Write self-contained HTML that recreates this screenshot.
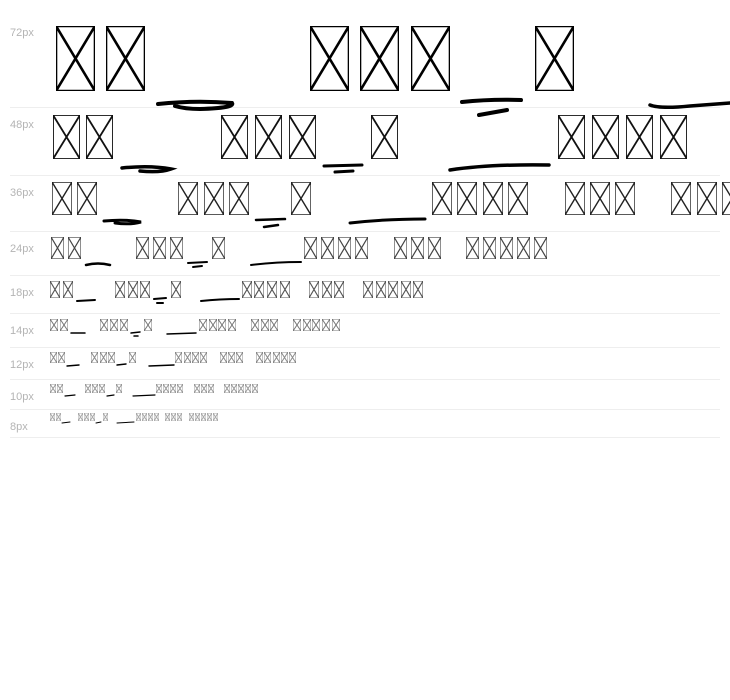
<!DOCTYPE html>
<html><head><meta charset="utf-8"><style>
html,body{margin:0;padding:0;background:#fff;width:730px;height:700px;overflow:hidden}
svg{display:block}
.l{font-family:"Liberation Sans",sans-serif;font-size:11px;fill:#b4b4b4}
.s{fill:none;stroke:#000;stroke-linecap:round}
</style></head><body>
<svg width="730" height="700" viewBox="0 0 730 700" xmlns="http://www.w3.org/2000/svg">
<defs>
<symbol id="b" viewBox="0 0 10 20" preserveAspectRatio="none">
<path d="M0 0H10V20H0Z M0 0L10 20 M10 0L0 20" fill="none" stroke="currentColor" vector-effect="non-scaling-stroke"/>
</symbol>
</defs>
<g stroke="#eee" stroke-width="1">
<line x1="10" y1="107.5" x2="720" y2="107.5"/><line x1="10" y1="175.5" x2="720" y2="175.5"/>
<line x1="10" y1="231.5" x2="720" y2="231.5"/><line x1="10" y1="275.5" x2="720" y2="275.5"/>
<line x1="10" y1="313.5" x2="720" y2="313.5"/><line x1="10" y1="347.5" x2="720" y2="347.5"/>
<line x1="10" y1="379.5" x2="720" y2="379.5"/><line x1="10" y1="409.5" x2="720" y2="409.5"/>
<line x1="10" y1="437.5" x2="720" y2="437.5"/>
</g>
<text class="l" x="10" y="36">72px</text><text class="l" x="10" y="128">48px</text>
<text class="l" x="10" y="196">36px</text><text class="l" x="10" y="252">24px</text>
<text class="l" x="10" y="296">18px</text><text class="l" x="10" y="334">14px</text>
<text class="l" x="10" y="368">12px</text><text class="l" x="10" y="400">10px</text>
<text class="l" x="10" y="430">8px</text>

<g color="#000" stroke-width="2.6">
<use href="#b" x="56" y="26" width="39" height="65"/>
<use href="#b" x="106" y="26" width="39" height="65"/>
<use href="#b" x="310" y="26" width="39" height="65"/>
<use href="#b" x="360" y="26" width="39" height="65"/>
<use href="#b" x="411" y="26" width="39" height="65"/>
<use href="#b" x="535" y="26" width="39" height="65"/>
</g>
<path class="s" stroke-width="4" d="M158 104 Q195 100 232 103 Q235 108 200 109 Q185 109 175 106"/>
<path class="s" stroke-width="4" d="M462 102 Q490 99 521 100 M479 115 L507 110"/>
<path class="s" stroke-width="3.5" d="M650 105 Q660 109 690 106 L730 103"/>

<g color="#111" stroke-width="1.8">
<use href="#b" x="53" y="115" width="27" height="44"/><use href="#b" x="86" y="115" width="27" height="44"/>
<use href="#b" x="221" y="115" width="27" height="44"/><use href="#b" x="255" y="115" width="27" height="44"/>
<use href="#b" x="289" y="115" width="27" height="44"/><use href="#b" x="371" y="115" width="27" height="44"/>
<use href="#b" x="558" y="115" width="27" height="44"/><use href="#b" x="592" y="115" width="27" height="44"/>
<use href="#b" x="626" y="115" width="27" height="44"/><use href="#b" x="660" y="115" width="27" height="44"/>
</g>
<path class="s" stroke-width="3.5" d="M122 168 Q150 165 171 169 Q160 173 140 171"/>
<path class="s" stroke-width="3" d="M324 166 L362 165 M335 172 L353 171"/>
<path class="s" stroke-width="3.5" d="M450 170 Q490 164 549 165"/>

<g color="#222" stroke-width="1.4">
<use href="#b" x="52" y="182" width="20" height="33"/><use href="#b" x="77" y="182" width="20" height="33"/>
<use href="#b" x="178" y="182" width="20" height="33"/><use href="#b" x="204" y="182" width="20" height="33"/>
<use href="#b" x="229" y="182" width="20" height="33"/><use href="#b" x="291" y="182" width="20" height="33"/>
<use href="#b" x="432" y="182" width="20" height="33"/><use href="#b" x="457" y="182" width="20" height="33"/>
<use href="#b" x="483" y="182" width="20" height="33"/><use href="#b" x="508" y="182" width="20" height="33"/>
<use href="#b" x="565" y="182" width="20" height="33"/><use href="#b" x="590" y="182" width="20" height="33"/>
<use href="#b" x="615" y="182" width="20" height="33"/><use href="#b" x="671" y="182" width="20" height="33"/>
<use href="#b" x="697" y="182" width="20" height="33"/><use href="#b" x="722" y="182" width="20" height="33"/>
</g>
<path class="s" stroke-width="3" d="M104 221 Q125 219 141 222 Q130 225 115 223"/>
<path class="s" stroke-width="2.5" d="M256 220 L285 219 M264 227 L278 225"/>
<path class="s" stroke-width="3" d="M350 223 Q385 219 425 219"/>

<g color="#444" stroke-width="1.2">
<use href="#b" x="51" y="237" width="13" height="22"/><use href="#b" x="68" y="237" width="13" height="22"/>
<use href="#b" x="136" y="237" width="13" height="22"/><use href="#b" x="153" y="237" width="13" height="22"/>
<use href="#b" x="170" y="237" width="13" height="22"/><use href="#b" x="212" y="237" width="13" height="22"/>
<use href="#b" x="304" y="237" width="13" height="22"/><use href="#b" x="321" y="237" width="13" height="22"/>
<use href="#b" x="338" y="237" width="13" height="22"/><use href="#b" x="355" y="237" width="13" height="22"/>
<use href="#b" x="394" y="237" width="13" height="22"/><use href="#b" x="411" y="237" width="13" height="22"/>
<use href="#b" x="428" y="237" width="13" height="22"/>
<use href="#b" x="466" y="237" width="13" height="22"/><use href="#b" x="483" y="237" width="13" height="22"/>
<use href="#b" x="500" y="237" width="13" height="22"/><use href="#b" x="517" y="237" width="13" height="22"/>
<use href="#b" x="534" y="237" width="13" height="22"/>
</g>
<path class="s" stroke-width="2.5" d="M86 265 Q98 262 110 265"/>
<path class="s" stroke-width="2" d="M188 263 L207 262 M193 267 L202 266"/>
<path class="s" stroke-width="2" d="M251 265 Q275 262 301 262"/>

<g color="#555" stroke-width="1.1">
<use href="#b" x="50" y="281" width="10" height="17"/><use href="#b" x="63" y="281" width="10" height="17"/>
<use href="#b" x="115" y="281" width="10" height="17"/><use href="#b" x="128" y="281" width="10" height="17"/>
<use href="#b" x="140" y="281" width="10" height="17"/><use href="#b" x="171" y="281" width="10" height="17"/>
<use href="#b" x="242" y="281" width="10" height="17"/><use href="#b" x="254" y="281" width="10" height="17"/>
<use href="#b" x="267" y="281" width="10" height="17"/><use href="#b" x="280" y="281" width="10" height="17"/>
<use href="#b" x="309" y="281" width="10" height="17"/><use href="#b" x="322" y="281" width="10" height="17"/>
<use href="#b" x="334" y="281" width="10" height="17"/>
<use href="#b" x="363" y="281" width="10" height="17"/><use href="#b" x="376" y="281" width="10" height="17"/>
<use href="#b" x="388" y="281" width="10" height="17"/><use href="#b" x="401" y="281" width="10" height="17"/>
<use href="#b" x="413" y="281" width="10" height="17"/>
</g>
<path class="s" stroke-width="2" d="M77 301 L95 300 M154 299 L166 298 M157 303 L163 303 M201 301 Q220 299 239 299"/>

<g color="#777" stroke-width="1">
<use href="#b" x="50" y="319" width="8" height="12"/><use href="#b" x="60" y="319" width="8" height="12"/>
<use href="#b" x="100" y="319" width="8" height="12"/><use href="#b" x="110" y="319" width="8" height="12"/>
<use href="#b" x="120" y="319" width="8" height="12"/><use href="#b" x="144" y="319" width="8" height="12"/>
<use href="#b" x="199" y="319" width="8" height="12"/><use href="#b" x="209" y="319" width="8" height="12"/>
<use href="#b" x="218" y="319" width="8" height="12"/><use href="#b" x="228" y="319" width="8" height="12"/>
<use href="#b" x="251" y="319" width="8" height="12"/><use href="#b" x="261" y="319" width="8" height="12"/>
<use href="#b" x="270" y="319" width="8" height="12"/>
<use href="#b" x="293" y="319" width="8" height="12"/><use href="#b" x="303" y="319" width="8" height="12"/>
<use href="#b" x="312" y="319" width="8" height="12"/><use href="#b" x="322" y="319" width="8" height="12"/>
<use href="#b" x="332" y="319" width="8" height="12"/>
</g>
<path class="s" stroke-width="1.5" d="M71 333 L85 333 M131 333 L140 332 M134 336 L138 336 M167 334 L196 333"/>

<g color="#888" stroke-width="1">
<use href="#b" x="50" y="352" width="7" height="11"/><use href="#b" x="58" y="352" width="7" height="11"/>
<use href="#b" x="91" y="352" width="7" height="11"/><use href="#b" x="100" y="352" width="7" height="11"/>
<use href="#b" x="108" y="352" width="7" height="11"/><use href="#b" x="129" y="352" width="7" height="11"/>
<use href="#b" x="175" y="352" width="7" height="11"/><use href="#b" x="184" y="352" width="7" height="11"/>
<use href="#b" x="192" y="352" width="7" height="11"/><use href="#b" x="200" y="352" width="7" height="11"/>
<use href="#b" x="220" y="352" width="7" height="11"/><use href="#b" x="228" y="352" width="7" height="11"/>
<use href="#b" x="236" y="352" width="7" height="11"/>
<use href="#b" x="256" y="352" width="7" height="11"/><use href="#b" x="264" y="352" width="7" height="11"/>
<use href="#b" x="273" y="352" width="7" height="11"/><use href="#b" x="281" y="352" width="7" height="11"/>
<use href="#b" x="289" y="352" width="7" height="11"/>
</g>
<path class="s" stroke-width="1.4" d="M67 366 L79 365 M117 365 L126 364 M149 366 L174 365"/>

<g color="#999" stroke-width="1">
<use href="#b" x="50" y="384" width="6" height="9"/><use href="#b" x="57" y="384" width="6" height="9"/>
<use href="#b" x="85" y="384" width="6" height="9"/><use href="#b" x="92" y="384" width="6" height="9"/>
<use href="#b" x="99" y="384" width="6" height="9"/><use href="#b" x="116" y="384" width="6" height="9"/>
<use href="#b" x="156" y="384" width="6" height="9"/><use href="#b" x="163" y="384" width="6" height="9"/>
<use href="#b" x="170" y="384" width="6" height="9"/><use href="#b" x="177" y="384" width="6" height="9"/>
<use href="#b" x="194" y="384" width="6" height="9"/><use href="#b" x="201" y="384" width="6" height="9"/>
<use href="#b" x="208" y="384" width="6" height="9"/>
<use href="#b" x="224" y="384" width="6" height="9"/><use href="#b" x="231" y="384" width="6" height="9"/>
<use href="#b" x="238" y="384" width="6" height="9"/><use href="#b" x="245" y="384" width="6" height="9"/>
<use href="#b" x="252" y="384" width="6" height="9"/>
</g>
<path class="s" stroke-width="1.2" d="M65 396 L75 395 M107 396 L114 395 M133 396 L155 395"/>

<g color="#aaa" stroke-width="1">
<use href="#b" x="50" y="413" width="5" height="8"/><use href="#b" x="56" y="413" width="5" height="8"/>
<use href="#b" x="78" y="413" width="5" height="8"/><use href="#b" x="84" y="413" width="5" height="8"/>
<use href="#b" x="90" y="413" width="5" height="8"/><use href="#b" x="103" y="413" width="5" height="8"/>
<use href="#b" x="136" y="413" width="5" height="8"/><use href="#b" x="142" y="413" width="5" height="8"/>
<use href="#b" x="148" y="413" width="5" height="8"/><use href="#b" x="154" y="413" width="5" height="8"/>
<use href="#b" x="165" y="413" width="5" height="8"/><use href="#b" x="171" y="413" width="5" height="8"/>
<use href="#b" x="177" y="413" width="5" height="8"/>
<use href="#b" x="189" y="413" width="5" height="8"/><use href="#b" x="195" y="413" width="5" height="8"/>
<use href="#b" x="201" y="413" width="5" height="8"/><use href="#b" x="207" y="413" width="5" height="8"/>
<use href="#b" x="213" y="413" width="5" height="8"/>
</g>
<path class="s" stroke-width="1" d="M62 423 L70 422 M96 423 L101 422 M117 423 L134 422"/>
</svg>
</body></html>
